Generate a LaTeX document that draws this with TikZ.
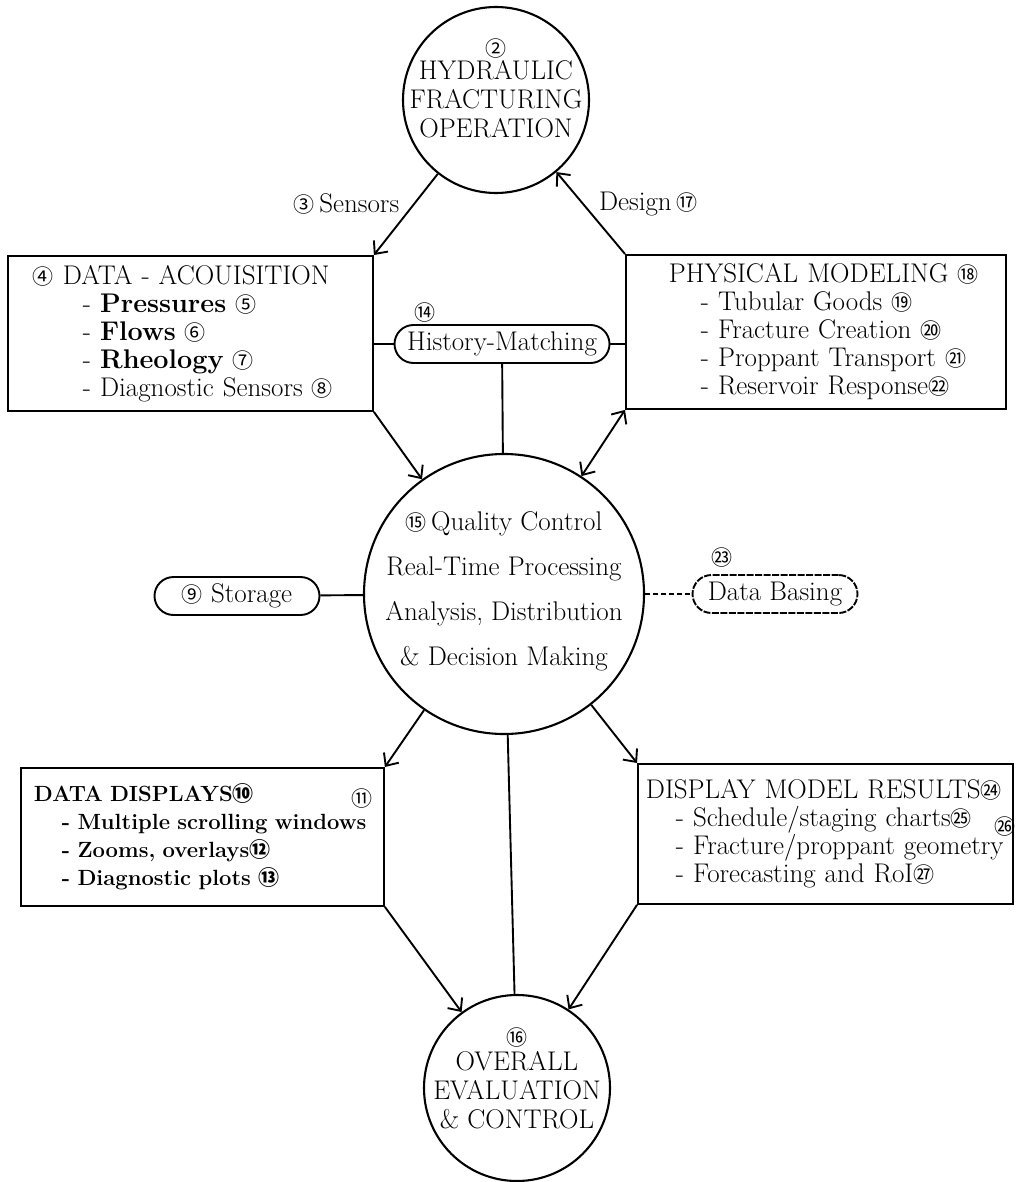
\documentclass[tikz,border=0pt]{standalone}
\usepackage{fontspec}
\newfontfamily\cjk{Noto Sans CJK SC}
\usetikzlibrary{arrows.meta}
\newcommand{\cn}[1]{{\cjk\fontsize{21}{21}\selectfont #1}}

\begin{document}
\begin{tikzpicture}[x=1pt, y=-1pt, line width=1.9pt,
    flow/.style={-{Straight Barb[length=10pt,width=18pt]}},
    twoway/.style={{Straight Barb[length=10pt,width=18pt]}-{Straight Barb[length=10pt,width=18pt]}},
    ring/.style={draw, circle, line width=2.1pt, inner sep=0pt},
    ringtext/.style={align=center, font=\fontsize{27}{29}\selectfont},
    infobox/.style={draw, rectangle, anchor=north west, align=left, inner xsep=5pt, inner ysep=0pt, font=\fontsize{27}{28}\selectfont},
    pill/.style={draw, rectangle, rounded corners=19pt, minimum height=38pt, inner xsep=6pt, font=\fontsize{27}{28}\selectfont},
    numtag/.style={inner sep=0pt, font=\fontsize{27}{28}\selectfont}]
    \useasboundingbox (0,0) rectangle (1016,1182);

    % the three circles
    \node[ring, minimum size=186pt] (hfo) at (496,100) {};
    \node[ringtext] (hfotext) at (496,88) {\cn{②}\\[-6pt]HYDRAULIC\\FRACTURING\\OPERATION};
    \node[ring, minimum size=280pt] (qc) at (504,594) {};
    \node[ringtext, font=\fontsize{27}{45}\selectfont] (qctext) at (504,591) {\cn{⑮}\,Quality Control\\Real-Time Processing\\Analysis, Distribution\\\& Decision Making};
    \node[ring, minimum size=186pt] (eval) at (517,1088) {};
    \node[ringtext] (evaltext) at (517,1078) {\cn{⑯}\\[-4pt]OVERALL\\EVALUATION\\\& CONTROL};

    % boxes
    \node[infobox, text width=355pt, minimum height=155pt] (acq) at (7,255) {\hspace*{20pt}\cn{④} DATA - ACOUISITION\\
        \hspace*{70pt}- \textbf{Pressures} \cn{⑤}\\
        \hspace*{70pt}- \textbf{Flows} \cn{⑥}\\
        \hspace*{70pt}- \textbf{Rheology} \cn{⑦}\\
        \hspace*{70pt}- Diagnostic Sensors \cn{⑧}};
    \node[infobox, text width=370pt, minimum height=154pt] (phys) at (625,254) {\hspace*{38pt}PHYSICAL MODELING \cn{⑱}\\
        \hspace*{70pt}- Tubular Goods \cn{⑲}\\
        \hspace*{70pt}- Fracture Creation \cn{⑳}\\
        \hspace*{70pt}- Proppant Transport \cn{㉑}\\
        \hspace*{70pt}- Reservoir Response\cn{㉒}};
    \node[infobox, text width=353pt, minimum height=138pt, font=\bfseries\fontsize{22}{28}\selectfont] (disp) at (20,767) {\hspace*{8pt}DATA DISPLAYS\cn{⑩}\\
        \hspace*{36pt}- Multiple scrolling windows\\
        \hspace*{36pt}- Zooms, overlays\cn{⑫}\\
        \hspace*{36pt}- Diagnostic plots \cn{⑬}};
    \node[infobox, text width=365pt, minimum height=140pt] (res) at (637,763) {\hspace*{3pt}DISPLAY MODEL RESULTS\cn{㉔}\\
        \hspace*{33pt}- Schedule/staging charts\cn{㉕}\\
        \hspace*{33pt}- Fracture/proppant geometry\\
        \hspace*{33pt}- Forecasting and RoI\cn{㉗}};

    % rounded side boxes
    \node[pill, minimum width=215pt] (hm) at (502,344) {History-Matching};
    \node[pill, minimum width=165pt] (storage) at (237,596) {\cn{⑨} Storage};
    \node[pill, minimum width=165pt, dash pattern=on 7pt off 1.5pt] (db) at (775,594) {Data Basing};

    % loose numbers
    \node[numtag] (hmnum) at (425,313) {\cn{⑭}};
    \node[numtag] (dbnum) at (722,558) {\cn{㉓}};
    \node[numtag] (winnum) at (362,799) {\cn{⑪}};
    \node[numtag] (geonum) at (1005,827) {\cn{㉖}};

    % connectors
    \draw[flow] (hfo) -- (acq.north east) node[pos=0.37, left=14pt, numtag] (sensors) {\cn{③}\,Sensors};
    \draw[flow] (phys.north west) -- (hfo) node[pos=0.61, right=15pt, numtag] (design) {Design\,\cn{⑰}};
    \draw (hm.west) -- (hm.west -| acq.east);
    \draw (hm.east) -- (hm.east -| phys.west);
    \draw (hm) -- (qc);
    \draw[flow] (acq.south east) -- (qc);
    \draw[twoway] (phys.south west) -- (qc);
    \draw (storage) -- (qc);
    \draw[dash pattern=on 5pt off 3pt] (qc) -- (db);
    \draw[flow] (qc) -- (disp.north east);
    \draw[flow] (qc) -- (res.north west);
    \draw (qc) -- (eval);
    \draw[flow] (disp.south east) -- (eval);
    \draw[flow] (res.south west) -- (eval);
\end{tikzpicture}
\end{document}
